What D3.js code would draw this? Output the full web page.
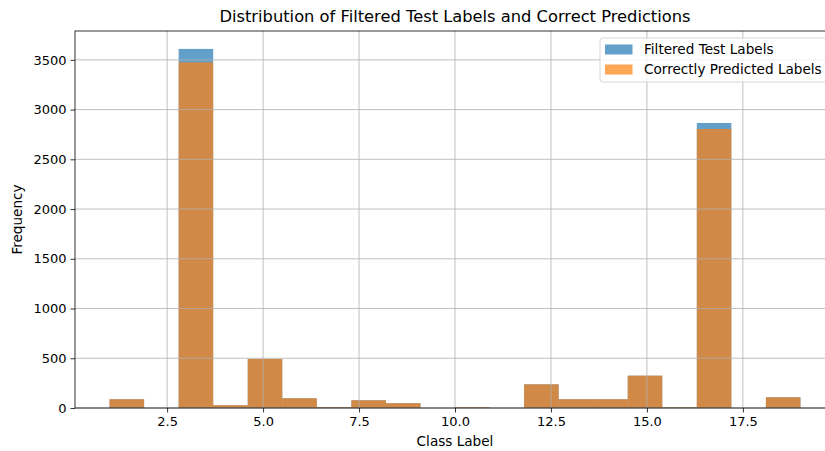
<!DOCTYPE html>
<html>
<head>
<meta charset="utf-8">
<script src="https://cdn.jsdelivr.net/npm/d3@7"></script>
<style>
	body { margin: 0; background: #fff; }
	svg { display: block; font-family: "DejaVu Sans", sans-serif; }
</style>
</head>
<body>
<div id="chart"></div>
<script>
// histogram bins (class label), 20 bins from 1 to 19
var binEdges = [1, 1.9, 2.8, 3.7, 4.6, 5.5, 6.4, 7.3, 8.2, 9.1, 10, 10.9, 11.8, 12.7, 13.6, 14.5, 15.4, 16.3, 17.2, 18.1, 19];

var testCounts = [88, 0, 3610, 28, 493, 98, 8, 78, 48, 0, 7, 0, 238, 88, 88, 325, 6, 2865, 0, 108];
var correctCounts = [88, 0, 3475, 28, 493, 98, 8, 78, 48, 0, 7, 0, 238, 88, 88, 325, 6, 2805, 0, 108];

var seriesNames = ["Filtered Test Labels", "Correctly Predicted Labels"];
var xTicks = [2.5, 5.0, 7.5, 10.0, 12.5, 15.0, 17.5];
var yTicks = [0, 500, 1000, 1500, 2000, 2500, 3000, 3500];

var width = 825, height = 451;
var plotL = 75, plotR = 835, plotT = 31, plotB = 408;

var svg = d3.select("#chart").append("svg")
	.attr("width", width).attr("height", height);

var x = d3.scaleLinear().domain([0.1, 19.9]).range([plotL, plotR]);
var y = d3.scaleLinear().domain([0, 3790]).range([plotB, plotT]);

var colors = ["#1f77b4", "#ff7f0e"];

var makeBins = function (counts) {
	return counts.map(function (c, i) {
		return { x0: binEdges[i], x1: binEdges[i + 1], n: c };
	});
};

[testCounts, correctCounts].forEach(function (counts, k) {
	svg.append("g").selectAll("rect")
		.data(makeBins(counts))
		.enter().append("rect")
		.attr("x", function (d) { return x(d.x0); })
		.attr("width", function (d) { return x(d.x1) - x(d.x0); })
		.attr("y", function (d) { return y(d.n); })
		.attr("height", function (d) { return y(0) - y(d.n); })
		.attr("fill", colors[k])
		.attr("fill-opacity", 0.7);
});

// grid lines sit above the bars, like matplotlib
var grid = svg.append("g").attr("stroke", "#b0b0b0").attr("stroke-width", 0.8);
grid.selectAll(".gx").data(xTicks).enter().append("line")
	.attr("x1", function (d) { return x(d); }).attr("x2", function (d) { return x(d); })
	.attr("y1", plotT).attr("y2", plotB);
grid.selectAll(".gy").data(yTicks).enter().append("line")
	.attr("x1", plotL).attr("x2", plotR)
	.attr("y1", function (d) { return y(d); }).attr("y2", function (d) { return y(d); });

var xAxis = svg.append("g")
	.attr("transform", "translate(0," + plotB + ")")
	.call(d3.axisBottom(x).tickValues(xTicks).tickFormat(d3.format(".1f")).tickSizeOuter(0).tickSize(4.5).tickPadding(4));

var yAxis = svg.append("g")
	.attr("transform", "translate(" + plotL + ",0)")
	.call(d3.axisLeft(y).tickValues(yTicks).tickFormat(d3.format("d")).tickSizeOuter(0).tickSize(4.5).tickPadding(4));

[xAxis, yAxis].forEach(function (a) {
	a.select(".domain").remove();
	a.selectAll("line").attr("stroke", "#000").attr("stroke-width", 0.8);
	a.selectAll("text").attr("fill", "#000").style("font-size", "13px").style("font-family", "DejaVu Sans");
});

// spines
svg.append("rect")
	.attr("x", plotL).attr("y", plotT)
	.attr("width", plotR - plotL).attr("height", plotB - plotT)
	.attr("fill", "none").attr("stroke", "#000").attr("stroke-width", 0.8);

svg.append("text")
	.attr("x", (plotL + plotR) / 2).attr("y", 22)
	.attr("text-anchor", "middle")
	.style("font-size", "16.3px")
	.text("Distribution of Filtered Test Labels and Correct Predictions");

svg.append("text")
	.attr("x", (plotL + plotR) / 2).attr("y", 446)
	.attr("text-anchor", "middle")
	.style("font-size", "13.6px")
	.text("Class Label");

svg.append("text")
	.attr("transform", "translate(22," + (plotT + plotB) / 2 + ") rotate(-90)")
	.attr("text-anchor", "middle")
	.style("font-size", "13.6px")
	.text("Frequency");

// legend
var legend = svg.append("g").attr("transform", "translate(600,38)");
legend.append("rect")
	.attr("width", 240).attr("height", 44).attr("rx", 3)
	.attr("fill", "#fff").attr("fill-opacity", 0.8)
	.attr("stroke", "#cccccc").attr("stroke-width", 0.8);

var item = legend.selectAll(".item").data(seriesNames).enter().append("g")
	.attr("transform", function (d, i) { return "translate(5," + (6.5 + i * 20) + ")"; });
item.append("rect")
	.attr("width", 27.5).attr("height", 10)
	.attr("fill", function (d, i) { return colors[i]; })
	.attr("fill-opacity", 0.7);
item.append("text")
	.attr("x", 39).attr("y", 9.8)
	.style("font-size", "13.6px")
	.text(function (d) { return d; });
</script>
</body>
</html>
